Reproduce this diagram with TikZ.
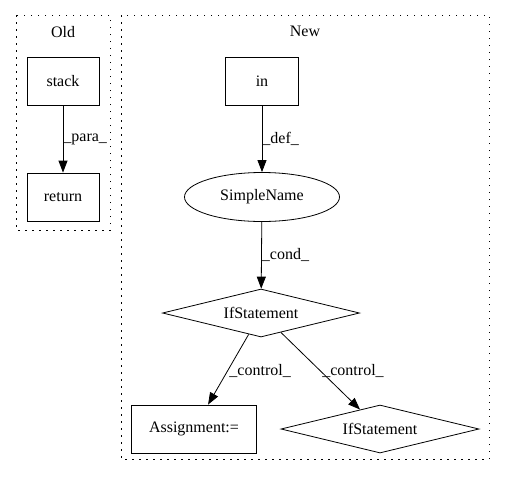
\documentclass[tikz,border=0pt]{standalone}
\usepackage{fontspec}
\setmainfont{Liberation Serif}
\usetikzlibrary{shapes.geometric,arrows.meta}
\tikzset{
  box/.style={draw, rectangle, line width=0.8pt, minimum width=72pt, minimum height=48pt},
  oval/.style={draw, ellipse, line width=0.8pt, minimum width=155pt, minimum height=49pt},
  cond/.style={draw, diamond, line width=0.8pt, aspect=4, minimum width=197pt, minimum height=48pt, inner sep=0pt},
  lbl/.style={right, inner sep=1.5pt},
  cluster/.style={line width=0.8pt, dash pattern=on 1.5pt off 5.5pt},
}
\begin{document}
\begin{tikzpicture}[x=1pt, y=-1pt, font=\fontsize{16}{18}\selectfont,
    >={Triangle[length=12pt, width=9pt]}]
      \useasboundingbox (0,0) rectangle (505,480);
      % clusters
      \draw[cluster] (16,15) rectangle (110,230);
      \draw[cluster] (121,15) rectangle (489,459);
      \node (old) at (63,32) {Old};
      \node (new) at (305,31) {New};
      \draw
        (63,81) node[box] (stack){stack}
        (63,197) node[box] (return){return}
        (262,81) node[box, minimum width=73pt] (in){in}
        (262,197) node[oval] (simplename){SimpleName}
        (261,313) node[cond] (if1){IfStatement}
        (194,429) node[box, minimum width=125pt] (assign){Assignment:=}
        (380,429) node[cond, minimum width=198pt] (if2){IfStatement};
      \begin{scope}[->, line width=0.8pt]
        \draw (stack) to node[lbl, inner sep=0pt] {\_para\_} (return);
        \draw (in) to node[lbl, inner sep=0pt] {\_def\_} (simplename);
        \draw (simplename) to node[lbl, inner sep=0pt] {\_cond\_} (if1);
        \draw (if1) to node[lbl, pos=0.52] {\_control\_} (assign);
        \draw (if1) to node[lbl, pos=0.5] {\_control\_} (if2);
      \end{scope}
    \end{tikzpicture}
\end{document}
